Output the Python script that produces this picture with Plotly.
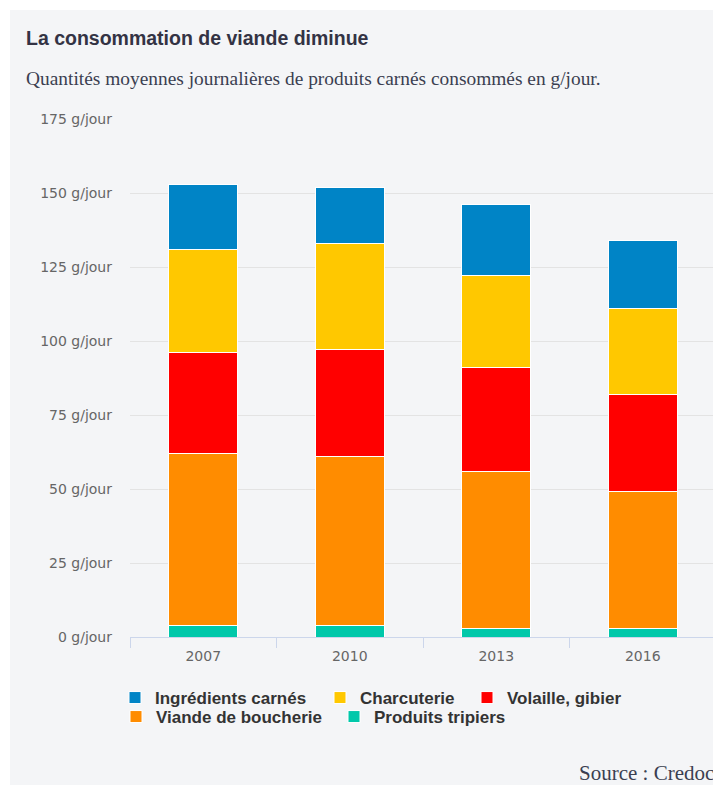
import plotly.graph_objects as go

years = ["2007", "2010", "2013", "2016"]
tripiers = [4, 4, 3, 3]
boucherie = [58, 57, 53, 46]
volaille = [34, 36, 35, 33]
charcuterie = [35, 36, 31, 29]
ingredients = [22, 19, 24, 23]

# (name, values, colour, legend id, legend text start x (page px), legend row centre y (page px))
series = [
    ("Produits tripiers", tripiers, "#00c8aa", "legend5", 374, 716),
    ("Viande de boucherie", boucherie, "#ff8c00", "legend4", 156, 716),
    ("Volaille, gibier", volaille, "#ff0000", "legend3", 507, 697),
    ("Charcuterie", charcuterie, "#ffc800", "legend2", 360, 697),
    ("Ingrédients carnés", ingredients, "#0084c6", "legend", 155, 697),
]

# page -> paper helpers (plot area: x 130..716, y 119..637 on the page)
def px(x):
    return (x - 130) / 586

def py(y):
    return (637 - y) / 518

fig = go.Figure()
legfont = dict(family="Liberation Sans Narrow, Liberation Sans", size=17, color="#333333", weight="bold")
legends = {}
for name, vals, col, lg, lx, ly in series:
    fig.add_trace(go.Bar(
        x=years, y=vals, name=name, marker=dict(color=col, line=dict(color="white", width=1)),
        legend=lg, hovertemplate="%{x}: %{y} g/jour<extra>" + name + "</extra>",
    ))
    legends[lg] = dict(orientation="h", x=px(lx - 40), y=py(ly - 17), xanchor="left", yanchor="top",
                       font=legfont, bgcolor="rgba(0,0,0,0)", itemwidth=30)

W, H = 721, 777
fig.update_layout(
    width=W, height=H,
    barmode="stack", bargap=0.53,
    paper_bgcolor="white", plot_bgcolor="rgba(0,0,0,0)",
    margin=dict(l=122, r=13, t=111, b=148),
    showlegend=True,
    **legends,
    yaxis=dict(range=[0, 175], dtick=25, ticksuffix=" g/jour", showgrid=True, gridcolor="#e3e3e3",
               gridwidth=1, zeroline=False, showline=False,
               tickfont=dict(family="DejaVu Sans", size=14, color="#666666"), ticklabelstandoff=17,
               fixedrange=True),
    xaxis=dict(showline=True, linecolor="#ccd6eb", linewidth=1, ticks="outside", tickson="boundaries",
               ticklen=10, tickcolor="#ccd6eb", ticklabelstandoff=6,
               tickfont=dict(family="DejaVu Sans", size=14, color="#666666"),
               fixedrange=True),
    shapes=[dict(type="rect", xref="paper", yref="paper",
                 x0=px(10), x1=px(760), y0=py(800), y1=py(10),
                 fillcolor="#f4f5f7", line=dict(width=0), layer="below")],
    annotations=[
        dict(text="<b>La consommation de viande diminue</b>", xref="paper", yref="paper",
             x=px(24), y=py(38), xanchor="left", yanchor="middle", showarrow=False,
             font=dict(family="Liberation Sans, Arial", size=19.5, color="#333344")),
        dict(text="Quantités moyennes journalières de produits carnés consommés en g/jour.", xref="paper", yref="paper",
             x=px(24), y=py(78), xanchor="left", yanchor="middle", showarrow=False,
             font=dict(family="Liberation Serif, serif", size=19.4, color="#3b3f51")),
        dict(text="Source : Credoc", xref="paper", yref="paper",
             x=px(577), y=py(773), xanchor="left", yanchor="middle", showarrow=False,
             font=dict(family="Liberation Serif, serif", size=21, color="#3b3f51")),
    ],
)

fig.write_html("out.html")
